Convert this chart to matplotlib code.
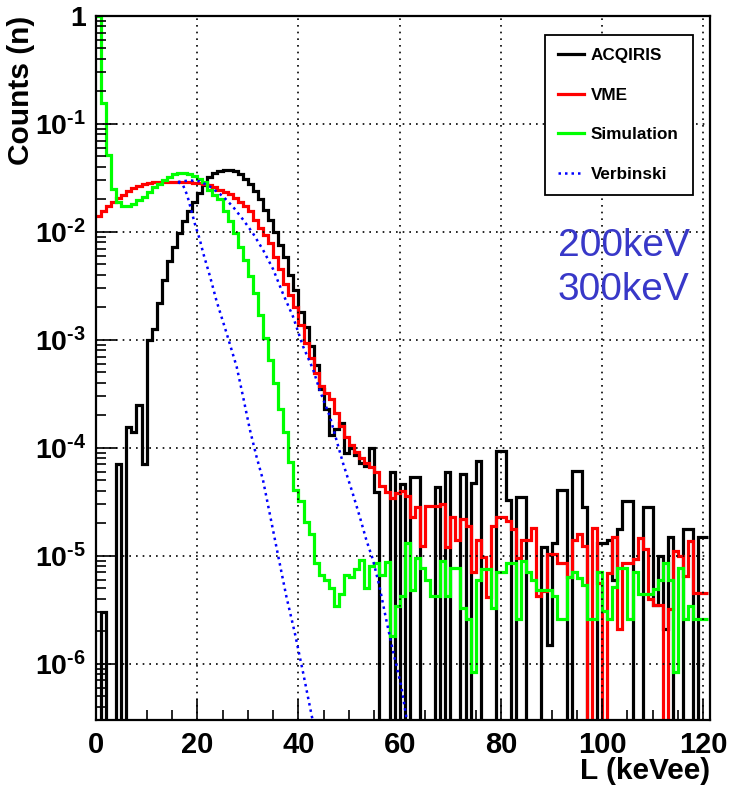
import numpy as np
import matplotlib
matplotlib.use("Agg")
import matplotlib.pyplot as plt
from matplotlib.ticker import MultipleLocator, LogLocator, NullFormatter

plt.rcParams['font.family'] = ['Liberation Sans', 'DejaVu Sans']
plt.rcParams['font.weight'] = 'bold'
plt.rcParams['mathtext.fontset'] = 'custom'
plt.rcParams['mathtext.rm'] = 'Liberation Sans:bold'
plt.rcParams['mathtext.bf'] = 'Liberation Sans:bold'
plt.rcParams['mathtext.it'] = 'Liberation Sans:bold'

# 1 keVee bins, 0..121
edges = np.arange(0, 122)

# ACQIRIS (black), normalised counts per bin
acqiris = [
    0, 3.0e-6, 0, 0, 7.0e-5, 0, 1.55e-4, 1.4e-4, 2.5e-4, 7.0e-5,              # 0-9
    1.0e-3, 1.26e-3, 2.2e-3, 3.6e-3, 5.4e-3, 7.3e-3, 9.7e-3, 0.0125, 0.0155, 0.019,  # 10-19
    0.023, 0.027, 0.032, 0.035, 0.037, 0.0375, 0.0375, 0.037, 0.0345, 0.031,  # 20-29
    0.028, 0.024, 0.020, 0.016, 0.0129, 0.010, 0.0076, 0.0059, 0.0040, 0.0029,  # 30-39
    0.0018, 0.0013, 8.7e-4, 5.9e-4, 3.5e-4, 2.3e-4, 1.3e-4, 1.5e-4, 1.7e-4, 8.9e-5,  # 40-49
    1.0e-4, 8.6e-5, 7.2e-5, 6.7e-5, 1.0e-4, 3.9e-5, 0, 0, 5.9e-5, 0,          # 50-59
    4.6e-5, 0, 5.3e-5, 5.3e-5, 0, 0, 0, 4.3e-5, 0, 5.9e-5,                    # 60-69
    0, 0, 5.7e-5, 0, 4.7e-5, 7.5e-5, 0, 0, 0, 9.3e-5,                         # 70-79
    9.3e-5, 3.3e-5, 0, 3.5e-5, 3.5e-5, 0, 0, 0, 1.2e-5, 1.5e-6,               # 80-89
    1.3e-5, 4.1e-5, 4.1e-5, 0, 6.1e-5, 6.1e-5, 2.8e-5, 0, 0, 1.3e-5,          # 90-99
    1.3e-5, 1.4e-5, 6.0e-6, 1.75e-5, 3.2e-5, 3.2e-5, 0, 0, 2.8e-5, 2.8e-5,    # 100-109
    3.5e-6, 1.0e-5, 2.1e-6, 1.5e-5, 0, 0, 1.75e-5, 1.75e-5, 0, 1.5e-5,        # 110-119
    1.5e-5,                                                                    # 120
]

# VME (red)
vme = [
    0.0141, 0.0155, 0.0172, 0.019, 0.0204, 0.022, 0.0237, 0.0253, 0.0266, 0.0278,
    0.0285, 0.0287, 0.029, 0.029, 0.029, 0.029, 0.029, 0.0288, 0.0287, 0.0285,
    0.0283, 0.028, 0.027, 0.0263, 0.0245, 0.0232, 0.0225, 0.0204, 0.019, 0.0172,
    0.0155, 0.0129, 0.0108, 0.0093, 0.0079, 0.0059, 0.0045, 0.0033, 0.0026, 0.0020,
    1.38e-3, 9.3e-4, 6.8e-4, 4.9e-4, 3.7e-4, 3.2e-4, 2.8e-4, 2.1e-4, 1.6e-4, 1.26e-4,
    1.07e-4, 9.2e-5, 8.1e-5, 7.2e-5, 6.6e-5, 6.0e-5, 4.4e-5, 3.9e-5, 3.4e-5, 3.8e-5,
    4.0e-5, 3.6e-5, 2.3e-5, 2.8e-5, 1.23e-5, 2.9e-5, 2.9e-5, 2.9e-5, 3.0e-5, 1.2e-5,
    2.3e-5, 1.4e-5, 2.2e-5, 1.9e-5, 7.0e-6, 1.4e-5, 9.7e-6, 4.1e-6, 1.9e-5, 2.3e-5,
    2.3e-5, 2.1e-5, 1.75e-5, 9.5e-6, 1.4e-5, 1.4e-5, 1.8e-5, 4.2e-6, 4.7e-6, 1.03e-5,
    1.03e-5, 8.6e-6, 8.6e-6, 6.3e-6, 1.4e-5, 1.6e-5, 1.23e-5, 0, 1.8e-5, 5.6e-6,
    0, 6.9e-6, 1.5e-5, 2.1e-6, 8.6e-6, 8.6e-6, 9.3e-6, 1.47e-5, 1.15e-5, 4.0e-6,
    3.5e-6, 3.5e-6, 0, 3.2e-6, 1.1e-5, 1.0e-5, 6.5e-6, 1.37e-5, 4.5e-6, 4.5e-6,
    4.5e-6,
]

# Simulation (green)
simulation = [
    1.0, 0.155, 0.051, 0.0248, 0.019, 0.0172, 0.0172, 0.018, 0.0199, 0.021,
    0.0236, 0.026, 0.028, 0.030, 0.032, 0.0345, 0.035, 0.035, 0.034, 0.033,
    0.031, 0.0287, 0.0245, 0.022, 0.020, 0.0155, 0.0125, 0.0098, 0.0073, 0.0055,
    0.0039, 0.0027, 0.0017, 1.04e-3, 6.5e-4, 4.0e-4, 2.3e-4, 1.4e-4, 7.4e-5, 4.1e-5,
    3.2e-5, 2.05e-5, 1.6e-5, 8.6e-6, 6.6e-6, 6.0e-6, 5.0e-6, 3.4e-6, 4.4e-6, 6.6e-6,
    6.3e-6, 7.6e-6, 9.2e-6, 5.0e-6, 8.0e-6, 8.6e-6, 6.6e-6, 8.8e-6, 1.8e-6, 3.4e-6,
    4.2e-6, 1.3e-5, 4.8e-6, 9.5e-6, 7.7e-6, 6.0e-6, 4.2e-6, 4.2e-6, 8.9e-6, 4.2e-6,
    7.7e-6, 7.7e-6, 3.3e-6, 2.6e-6, 8.3e-7, 6.0e-6, 7.5e-6, 7.5e-6, 3.3e-6, 7.0e-6,
    7.0e-6, 8.6e-6, 8.6e-6, 2.6e-6, 9.0e-6, 7.0e-6, 6.0e-6, 4.8e-6, 4.8e-6, 4.8e-6,
    4.2e-6, 2.6e-6, 2.6e-6, 6.3e-6, 7.0e-6, 6.2e-6, 5.3e-6, 2.6e-6, 2.6e-6, 7.0e-6,
    3.1e-6, 2.6e-6, 5.1e-6, 7.7e-6, 7.7e-6, 2.6e-6, 7.0e-6, 4.4e-6, 4.4e-6, 4.4e-6,
    4.9e-6, 6.0e-6, 8.6e-6, 6.0e-6, 8.3e-7, 7.7e-6, 2.6e-6, 3.4e-6, 2.6e-6, 2.6e-6,
    2.6e-6,
]

# Verbinski curves (blue dotted), two light thresholds
verb200_x = [16.2, 17.2, 18.0, 18.8, 19.5, 20.5, 21.2, 22.5, 23.8, 25.8, 27.8, 29.1,
             30.4, 31.7, 33.0, 34.7, 36.0, 37.6, 39.3, 40.9, 42.5, 43.0]
verb200_y = [0.029, 0.027, 0.022, 0.016, 0.012, 0.0085, 0.0063, 0.0039, 0.0023, 1.15e-3,
             5.6e-4, 2.9e-4, 1.47e-4, 8.3e-5, 5.0e-5, 2.0e-5, 9.9e-6, 4.2e-6, 1.9e-6,
             8.3e-7, 3.5e-7, 2.7e-7]
verb300_x = [16.2, 18.5, 20.5, 22.5, 25.1, 27.1, 29.1, 31.0, 33.0, 35.0, 36.9, 38.9,
             40.9, 42.9, 44.2, 46.2, 47.5, 48.8, 50.7, 52.1, 53.4, 54.7, 56.0, 57.3,
             58.6, 60.3, 61.3, 62.0]
verb300_y = [0.029, 0.030, 0.0294, 0.0263, 0.0213, 0.017, 0.0129, 0.0097, 0.0068, 0.0045,
             0.0027, 1.65e-3, 8.7e-4, 5.3e-4, 3.4e-4, 1.95e-4, 1.18e-4, 7.2e-5, 3.8e-5,
             2.3e-5, 1.4e-5, 9.2e-6, 5.2e-6, 2.6e-6, 1.35e-6, 6.2e-7, 3.2e-7, 2.4e-7]

fig = plt.figure(figsize=(7.29, 7.91), dpi=100)
ax = fig.add_axes([96 / 729, 71 / 791, 614 / 729, 704 / 791])

ax.stairs(acqiris, edges, color='black', lw=2.3, baseline=None, label='ACQIRIS')
ax.stairs(vme, edges, color='#ff0000', lw=2.3, baseline=None, label='VME')
ax.stairs(simulation, edges, color='#00ff00', lw=2.3, baseline=None, label='Simulation')
ax.plot(verb200_x, verb200_y, color='#0000ff', lw=1.8, ls=(0, (1, 1.6)), label='Verbinski')
ax.plot(verb300_x, verb300_y, color='#0000ff', lw=1.8, ls=(0, (1, 1.6)))

ax.set_yscale('log')
ax.set_xlim(0, 121.3)
ax.set_ylim(3e-7, 1)

ax.set_xticks(range(0, 121, 20))
ax.xaxis.set_minor_locator(MultipleLocator(5))
yt = [1e-6, 1e-5, 1e-4, 1e-3, 1e-2, 1e-1, 1]
ax.set_yticks(yt)
ax.set_yticklabels([r'$\mathbf{10^{\text{-}%d}}$' % n for n in range(6, 0, -1)] + ['1'])
ax.yaxis.set_minor_locator(LogLocator(base=10, subs=range(2, 10), numticks=20))
ax.yaxis.set_minor_formatter(NullFormatter())

ax.tick_params(which='major', direction='in', length=15, width=1.2, labelsize=21, pad=8)
ax.tick_params(axis='y', which='major', labelsize=20.5, pad=7)
ax.tick_params(which='minor', direction='in', length=7, width=1.2)
ax.grid(True, which='major', color='black', ls=(0, (1, 3)), lw=1.2)
for s in ax.spines.values():
    s.set_linewidth(1.6)

ax.set_xlabel('L (keVee)', fontsize=21.5, fontweight='bold', loc='right')
ax.xaxis.set_label_coords(1.0, -0.052)
ax.set_ylabel('Counts (n)', fontsize=21.5, fontweight='bold', loc='top')
ax.yaxis.set_label_coords(-0.1, 1.0)

leg = ax.legend(loc='upper left', bbox_to_anchor=(0.731, 0.973, 0.241, 0.0), mode='expand',
                fontsize=12.3, frameon=True, fancybox=False, edgecolor='black', framealpha=1,
                borderaxespad=0, handlelength=1.5, handletextpad=0.4, labelspacing=1.43,
                borderpad=0.78)
leg.get_frame().set_linewidth(1.3)

ax.text(0.752, 0.674, '200keV', transform=ax.transAxes, fontsize=28, fontweight='normal',
        color='#3838c8', va='center', ha='left')
ax.text(0.752, 0.611, '300keV', transform=ax.transAxes, fontsize=28, fontweight='normal',
        color='#3838c8', va='center', ha='left')

fig.savefig('out.png', dpi=100)
